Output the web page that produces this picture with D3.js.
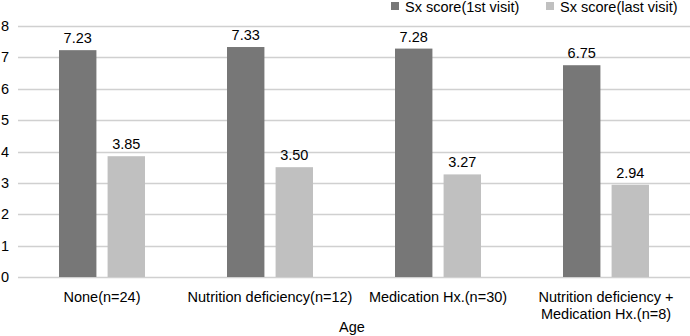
<!DOCTYPE html>
<html>
<head>
<meta charset="utf-8">
<script src="https://cdn.jsdelivr.net/npm/d3@7"></script>
<style>
  body { margin: 0; background: #fff; }
  text { font-family: "Liberation Sans", Arial, sans-serif; fill: #000; font-size: 14.5px; }
</style>
</head>
<body>
<svg></svg>
<script>
const categories = ["None(n=24)", "Nutrition deficiency(n=12)", "Medication Hx.(n=30)", "Nutrition deficiency +\nMedication Hx.(n=8)"];
const seriesNames = ["Sx score(1st visit)", "Sx score(last visit)"];
const firstVisit = [7.23, 7.33, 7.28, 6.75];
const lastVisit = [3.85, 3.50, 3.27, 2.94];
const yTicks = [0, 1, 2, 3, 4, 5, 6, 7, 8];
const colors = ["#777777", "#c0c0c0"];

const svg = d3.select("svg")
    .attr("width", 690)
    .attr("height", 336);

const x0 = d3.scaleBand()
    .domain(categories)
    .range([18, 690]);

const x1 = d3.scaleBand()
    .domain([0, 1])
    .range([0, 86])
    .paddingInner(0.23);

const groupOffset = (x0.bandwidth() - 86) / 2;

const y = d3.scaleLinear()
    .domain([0, 8])
    .range([277, 26]);

// gridlines
svg.append("g")
    .selectAll("line")
    .data(yTicks)
    .enter()
    .append("line")
    .attr("x1", 18)
    .attr("x2", 690)
    .attr("y1", d => Math.round(y(d)) + 0.5)
    .attr("y2", d => Math.round(y(d)) + 0.5)
    .style("stroke", "#d0d0d0")
    .style("stroke-width", 1.5);

// y tick labels
svg.append("g")
    .selectAll("text")
    .data(yTicks)
    .enter()
    .append("text")
    .attr("x", 9)
    .attr("y", d => y(d) + 5)
    .attr("text-anchor", "end")
    .text(d => d);

const rows = categories.map((c, i) => ({ cat: c, vals: [firstVisit[i], lastVisit[i]] }));

const groups = svg.selectAll(".grp")
    .data(rows)
    .enter()
    .append("g")
    .attr("class", "grp")
    .attr("transform", d => `translate(${x0(d.cat) + groupOffset},0)`);

groups.selectAll("rect")
    .data(d => d.vals.map((v, k) => ({ v, k })))
    .enter()
    .append("rect")
    .attr("x", d => x1(d.k))
    .attr("y", d => y(d.v))
    .attr("width", x1.bandwidth())
    .attr("height", d => y(0) - y(d.v))
    .style("fill", d => colors[d.k]);

groups.selectAll(".val")
    .data(d => d.vals.map((v, k) => ({ v, k })))
    .enter()
    .append("text")
    .attr("class", "val")
    .attr("x", d => x1(d.k) + x1.bandwidth() / 2)
    .attr("y", d => y(d.v) - 7)
    .attr("text-anchor", "middle")
    .text(d => d.v.toFixed(2));

// category labels
svg.append("g")
    .selectAll("text")
    .data(categories)
    .enter()
    .append("text")
    .attr("x", d => x0(d) + x0.bandwidth() / 2)
    .attr("y", 302)
    .attr("text-anchor", "middle")
    .each(function(d) {
        const lines = d.split("\n");
        d3.select(this).selectAll("tspan")
            .data(lines)
            .enter()
            .append("tspan")
            .attr("x", x0(d) + x0.bandwidth() / 2)
            .attr("dy", (l, i) => i === 0 ? 0 : 17)
            .text(l => l);
    });

svg.append("text")
    .attr("x", 352)
    .attr("y", 332)
    .attr("text-anchor", "middle")
    .text("Age");

// legend
const legendX = [391, 546];
const legend = svg.append("g")
    .selectAll("g")
    .data(seriesNames)
    .enter()
    .append("g")
    .attr("transform", (d, i) => `translate(${legendX[i]},2)`);

legend.append("rect")
    .attr("width", 8)
    .attr("height", 8)
    .style("fill", (d, i) => colors[i]);

legend.append("text")
    .attr("x", 14)
    .attr("y", 10)
    .text(d => d);
</script>
</body>
</html>
